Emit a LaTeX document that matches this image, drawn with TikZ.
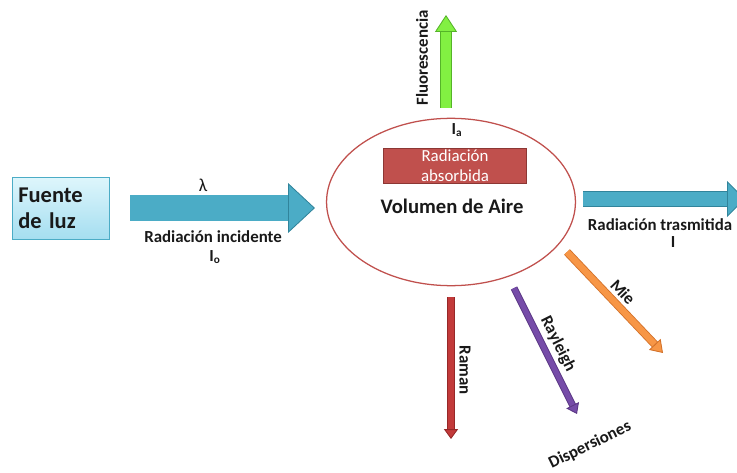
\documentclass[tikz,border=0pt]{standalone}
\usepackage{fontspec}
\setmainfont{Carlito}
\usetikzlibrary{arrows.meta,shapes.geometric}
\definecolor{cyanfill}{RGB}{75,172,198}
\definecolor{cyanline}{RGB}{49,132,155}
\definecolor{boxtop}{RGB}{222,246,252}
\definecolor{boxbot}{RGB}{165,222,240}
\definecolor{airered}{RGB}{192,80,77}
\definecolor{absline}{RGB}{140,55,52}
\definecolor{fluofill}{RGB}{130,240,66}
\definecolor{fluoline}{RGB}{85,180,40}
\definecolor{ramanfill}{RGB}{194,58,58}
\definecolor{ramanline}{RGB}{150,40,40}
\definecolor{rayfill}{RGB}{118,76,168}
\definecolor{rayline}{RGB}{88,52,130}
\definecolor{miefill}{RGB}{247,150,70}
\definecolor{mieline}{RGB}{210,112,40}
\definecolor{txt}{RGB}{25,25,25}
\begin{document}
\begin{tikzpicture}[x=0.025cm, y=-0.025cm, box/.style={draw=cyanfill, top color=boxtop, bottom color=boxbot, rectangle, minimum width=68.7pt, minimum height=44pt, text width=60pt, align=left, inner sep=4pt, text=txt, font=\fontsize{16}{18.5}\selectfont\bfseries}, barrow/.style n args={5}{draw=#5, line width=0.6pt, double=#4, double distance=#1, -{Triangle[width=#2, length=#3, fill=#4, color=#5, line width=0.6pt]}}, lbl/.style={text=txt, inner sep=0pt, font=\fontsize{12}{14}\selectfont\bfseries}]
  \useasboundingbox (0,0) rectangle (737,473);
  \clip (0,0) rectangle (737,473);

  \node [box] (fuente) at (60.5,208) {Fuente de luz};
  \node [ellipse, draw=airered, line width=0.9pt, minimum width=177pt, minimum height=119pt, inner sep=0pt] (aire) at (451,202) {};
  \node [rectangle, draw=absline, fill=airered, minimum width=102pt, minimum height=24.8pt, inner sep=0pt, align=center, text=white, font=\fontsize{12}{14}\selectfont] (absorbida) at (455,165.5) {Radiación\\absorbida};
  \node [lbl, font=\fontsize{14.7}{17}\selectfont\bfseries] (volumen) at (452,206) {Volumen de Aire};
  \node [lbl] (ia) at (457,130) {I\textsubscript{a}};

  \coordinate (salida) at (745,199);
  \coordinate (fluo) at (446,15);
  \coordinate (raman) at (451,439);
  \coordinate (ray-ini) at (514,288);
  \coordinate (ray-fin) at (577,414);
  \coordinate (mie-ini) at (567,252);
  \coordinate (mie-fin) at (663,353);

  \draw [barrow={17.9pt}{35.4pt}{19.1pt}{cyanfill}{cyanline}, shorten <=14.9pt, shorten >=7.8pt] (fuente.east) -- (fuente.east -| aire.west);
  \draw [barrow={10.1pt}{25.5pt}{12.8pt}{cyanfill}{cyanline}, shorten <=5pt] (aire.east |- salida) -- (salida);
  \draw [barrow={7.3pt}{15.6pt}{12pt}{fluofill}{fluoline}, shorten <=7pt] (fluo |- aire.north) -- (fluo);
  \draw [barrow={3.8pt}{10pt}{7pt}{ramanfill}{ramanline}, shorten <=7.8pt] (aire.south) -- (raman);
  \draw [barrow={3.8pt}{10pt}{7pt}{rayfill}{rayline}] (ray-ini) -- (ray-fin);
  \draw [barrow={4.5pt}{11.3pt}{8.5pt}{miefill}{mieline}] (mie-ini) -- (mie-fin);

  \node [lbl, font=\fontsize{13}{15}\selectfont] (lambda) at (203,185) {λ};
  \node [lbl] (incidente) at (213,237) {Radiación incidente};
  \node [lbl] (io) at (215,257) {I\textsubscript{o}};
  \node [lbl] (trasmitida) at (660,225) {Radiación trasmitida};
  \node [lbl] (itras) at (673,242) {I};
  \node [lbl, rotate=90] (fluorescencia) at (422,58) {Fluorescencia};
  \node [lbl, rotate=-90] (ramanlbl) at (465,370) {Raman};
  \node [lbl, rotate=-63.4] (rayleigh) at (558,344) {Rayleigh};
  \node [lbl, rotate=-46.4] (mielbl) at (623,292) {Mie};
  \node [lbl, rotate=26] (dispersiones) at (590,445) {Dispersiones};
\end{tikzpicture}
\end{document}
